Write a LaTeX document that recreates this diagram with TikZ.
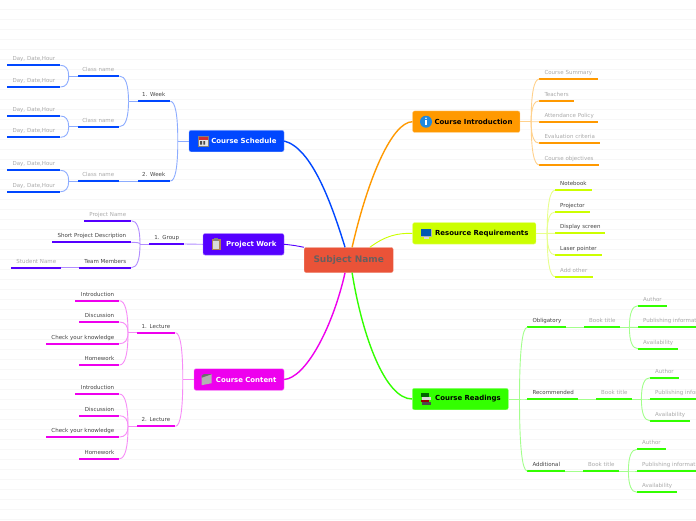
\documentclass[tikz,border=0pt]{standalone}
\usepackage{fontspec}
\setmainfont{DejaVu Sans}
\usetikzlibrary{calc}
\definecolor{schedblue}{RGB}{0,71,255}
\definecolor{projviolet}{RGB}{85,0,255}
\definecolor{contentpink}{RGB}{238,0,238}
\definecolor{introorange}{RGB}{255,153,0}
\definecolor{reslime}{RGB}{204,255,0}
\definecolor{readgreen}{RGB}{51,255,0}
\definecolor{subjectred}{RGB}{234,83,56}
\definecolor{ink}{RGB}{68,68,68}
\definecolor{subjectink}{RGB}{105,95,95}
\definecolor{faded}{RGB}{170,170,170}
\definecolor{rule}{RGB}{247,247,247}
\tikzset{
  hub/.style={draw=#1!50,fill=#1,rounded corners=2pt,inner sep=0pt,minimum height=21.5pt,
              font=\fontsize{6.95}{8}\selectfont\bfseries,align=right},
  subject/.style={draw=subjectred!70,fill=subjectred,rounded corners=2pt,inner sep=0pt,
                  minimum width=89pt,minimum height=25pt,text=subjectink,
                  font=\fontsize{9}{10}\selectfont\bfseries},
  topic/.style={inner xsep=5pt,inner ysep=2.8pt,text height=4pt,text depth=1.5pt,anchor=south west,
                font=\fontsize{5.5}{6}\selectfont},
  dimmed/.style={text=faded},
  plain/.style={text=ink},
  trunk/.style={draw=#1,line width=1.4pt},
  twig/.style={draw=#1!45,line width=0.9pt},
  bracket/.style={to path={.. controls ($(\tikztostart)!0.66!(\tikztostart |- \tikztotarget)$)
                  and ($(\tikztotarget)!0.66!(\tikztostart |- \tikztotarget)$) .. (\tikztotarget)}},
}
% name, left end, right end, height of the underline, colour style, l or r, text
\newcommand{\topic}[7]{%
  \pgfmathsetmacro{\topicw}{#3-#2}%
  \pgfmathsetmacro{\topict}{#3-#2-10}%
  \node[topic,minimum width=\topicw pt,text width=\topict pt,#5] (#1) at (#2,#4) {\makebox[\linewidth][#6]{#7}};
  \draw[\tone,line width=1.9pt] (#1.south west) -- (#1.south east);}
\newcommand{\iconcal}[1]{%
  \begin{scope}[shift={(#1)}]
    \fill[white!90!black] (-5,-5) rectangle (5,5);
    \fill[red!65!gray] (-5,-5) rectangle (5,-1.5);
    \draw[gray,line width=0.3pt] (-5,-5) rectangle (5,5);
    \fill[black!70] (-2.5,0) rectangle (-0.7,3.6) (0.7,0) rectangle (2.5,3.6);
  \end{scope}}
\newcommand{\iconclip}[1]{%
  \begin{scope}[shift={(#1)}]
    \fill[brown!70!gray] (-4.5,-5) rectangle (4.5,5.5);
    \fill[white!85!black] (-3.4,-3.5) rectangle (3.4,4.5);
    \fill[gray] (-1.8,-6) rectangle (1.8,-3.5);
  \end{scope}}
\newcommand{\iconfolder}[1]{%
  \begin{scope}[shift={(#1)}]
    \fill[gray!60] (-5,-4) -- (5,-5.5) -- (5,3.5) -- (-5,5.5) -- cycle;
    \fill[gray!85!black] (-5,-4) -- (-3,-5.5) -- (5,-5.5) -- (-5,-2) -- cycle;
  \end{scope}}
\newcommand{\iconinfo}[1]{%
  \begin{scope}[shift={(#1)}]
    \fill[blue!45!cyan!75!gray] (0,0) circle (6);
    \fill[white] (0,-3.4) circle (0.9);
    \fill[white] (-0.8,-1.5) rectangle (0.8,3.6);
  \end{scope}}
\newcommand{\iconscreen}[1]{%
  \begin{scope}[shift={(#1)}]
    \fill[gray!30] (-2.5,3) rectangle (2.5,5.5);
    \fill[gray!60] (-5.5,-4.5) rectangle (5.5,3.5);
    \fill[blue!50!cyan!70!black] (-4.7,-3.7) rectangle (4.7,2.7);
  \end{scope}}
\newcommand{\iconbooks}[1]{%
  \begin{scope}[shift={(#1)}]
    \fill[green!40!black] (-4.5,-6) rectangle (3.5,-2);
    \fill[white!85!black] (-4,-2) rectangle (5,0.5);
    \fill[red!60!black] (-5,0.5) rectangle (3.5,3);
    \fill[black!70] (-4,3) rectangle (5,6);
  \end{scope}}

\begin{document}
\begin{tikzpicture}[x=1pt,y=-1pt]
  \path[use as bounding box,clip] (0,0) rectangle (696,520);
  \fill[white] (0,0) rectangle (696,520);
  \foreach \y in {9.3,19.3,...,519.3} \draw[rule,line width=0.7pt] (0,\y) -- (696,\y);

  \node[subject] (subject) at (348.7,260) {Subject Name};

  % hubs
  \node[hub=schedblue,text=white,minimum width=95pt,text width=80pt] (schedule) at (236.5,141) {Course Schedule};
  \node[hub=projviolet,text=white,minimum width=81pt,text width=66pt] (project) at (243.5,244.3) {Project Work};
  \node[hub=contentpink,text=white,minimum width=90pt,text width=75pt] (content) at (239,379.5) {Course Content};
  \node[hub=introorange,text=black,minimum width=107.3pt,text width=92.3pt] (intro) at (466.3,121.7) {Course Introduction};
  \node[hub=reslime,text=black,minimum width=123.3pt,text width=108.3pt] (resource) at (474.3,233.3) {Resource Requirements};
  \node[hub=readgreen,text=black,minimum width=96pt,text width=81pt] (readings) at (460.3,399) {Course Readings};
  \iconcal{202.7,141}
  \iconclip{216,244.3}
  \iconfolder{206.7,379.7}
  \iconinfo{426,121.7}
  \iconscreen{426,233}
  \iconbooks{425.7,399}

  \draw[trunk=schedblue] (schedule.east) .. controls (312,148) and (332,205) .. (subject.106);
  \draw[trunk=introorange] (intro.west) .. controls (392,122) and (368,178) .. (subject.75);
  \draw[trunk=reslime,line width=0.9pt] (resource.west) .. controls (397,233) and (385,236) .. (subject.31);
  \draw[trunk=projviolet,line width=0.9pt] (project.east) .. controls (292,245) and (298,246) .. (subject.north west);
  \draw[trunk=contentpink] (content.east) .. controls (305,378) and (332,330) .. (subject.-106);
  \draw[trunk=readgreen] (readings.west) .. controls (385,399) and (362,335) .. (subject.-75);

  % schedule
  \def\tone{schedblue}
  \topic{weekA}{138}{170}{101.3}{plain}{r}{1. Week}
  \topic{weekB}{138}{170}{181}{plain}{r}{2. Week}
  \topic{classA}{78}{119}{76}{dimmed}{r}{Class name}
  \topic{classB}{78}{119}{126.7}{dimmed}{r}{Class name}
  \topic{classC}{78}{119}{181}{dimmed}{r}{Class name}
  \topic{dayA}{7}{60}{65.3}{dimmed}{r}{Day, Date,Hour}
  \topic{dayB}{7}{60}{87}{dimmed}{r}{Day, Date,Hour}
  \topic{dayC}{7}{60}{116}{dimmed}{r}{Day, Date,Hour}
  \topic{dayD}{7}{60}{137.3}{dimmed}{r}{Day, Date,Hour}
  \topic{dayE}{7}{60}{170.3}{dimmed}{r}{Day, Date,Hour}
  \topic{dayF}{7}{60}{191.7}{dimmed}{r}{Day, Date,Hour}
  \draw[twig=schedblue] (schedule.west) -- ++(-11,0) coordinate (schedJoin);
  \draw[twig=schedblue] (schedJoin) to[bracket] (weekA.south east);
  \draw[twig=schedblue] (schedJoin) to[bracket] (weekB.south east);
  \draw[twig=schedblue] (weekA.south west) -- ++(-9.5,0) coordinate (weekJoin);
  \draw[twig=schedblue] (weekJoin) to[bracket] (classA.south east);
  \draw[twig=schedblue] (weekJoin) to[bracket] (classB.south east);
  \draw[twig=schedblue] (weekB.south west) -- (classC.south east);
  \draw[twig=schedblue] (classA.south west) -- ++(-9.3,0) coordinate (classJoinA);
  \draw[twig=schedblue] (classJoinA) to[bracket] (dayA.south east);
  \draw[twig=schedblue] (classJoinA) to[bracket] (dayB.south east);
  \draw[twig=schedblue] (classB.south west) -- ++(-9.3,0) coordinate (classJoinB);
  \draw[twig=schedblue] (classJoinB) to[bracket] (dayC.south east);
  \draw[twig=schedblue] (classJoinB) to[bracket] (dayD.south east);
  \draw[twig=schedblue] (classC.south west) -- ++(-9.3,0) coordinate (classJoinC);
  \draw[twig=schedblue] (classJoinC) to[bracket] (dayE.south east);
  \draw[twig=schedblue] (classJoinC) to[bracket] (dayF.south east);

  % project
  \def\tone{projviolet}
  \topic{group}{149}{184}{244}{plain}{r}{1. Group}
  \topic{pname}{84}{131}{220.7}{dimmed}{r}{Project Name}
  \topic{pshort}{52}{131}{242.3}{plain}{r}{Short Project Description}
  \topic{pteam}{79}{131}{267.7}{plain}{r}{Team Members}
  \topic{pstudent}{11}{61}{267.7}{dimmed}{r}{Student Name}
  \draw[twig=projviolet] (project.west) -- (group.south east);
  \draw[twig=projviolet] (group.south west) -- ++(-9,0) coordinate (groupJoin);
  \draw[twig=projviolet] (groupJoin) to[bracket] (pname.south east);
  \draw[twig=projviolet] (groupJoin) to[bracket] (pshort.south east);
  \draw[twig=projviolet] (groupJoin) to[bracket] (pteam.south east);
  \draw[twig=projviolet] (pteam.south west) -- (pstudent.south east);

  % content
  \def\tone{contentpink}
  \topic{lectA}{137}{175}{332.7}{plain}{r}{1. Lecture}
  \topic{lectB}{137}{175}{426.3}{plain}{r}{2. Lecture}
  \topic{introA}{75}{119}{300.7}{plain}{r}{Introduction}
  \topic{discA}{79}{119}{322}{plain}{r}{Discussion}
  \topic{checkA}{46}{119}{343.7}{plain}{r}{Check your knowledge}
  \topic{homeA}{79}{119}{365}{plain}{r}{Homework}
  \topic{introB}{75}{119}{394}{plain}{r}{Introduction}
  \topic{discB}{79}{119}{415.7}{plain}{r}{Discussion}
  \topic{checkB}{46}{119}{437}{plain}{r}{Check your knowledge}
  \topic{homeB}{79}{119}{458.7}{plain}{r}{Homework}
  \draw[twig=contentpink] (content.west) -- ++(-11,0) coordinate (contentJoin);
  \draw[twig=contentpink] (contentJoin) to[bracket] (lectA.south east);
  \draw[twig=contentpink] (contentJoin) to[bracket] (lectB.south east);
  \draw[twig=contentpink] (lectA.south west) -- ++(-9,0) coordinate (lectJoinA);
  \draw[twig=contentpink] (lectJoinA) to[bracket] (introA.south east);
  \draw[twig=contentpink] (lectJoinA) to[bracket] (discA.south east);
  \draw[twig=contentpink] (lectJoinA) to[bracket] (checkA.south east);
  \draw[twig=contentpink] (lectJoinA) to[bracket] (homeA.south east);
  \draw[twig=contentpink] (lectB.south west) -- ++(-9,0) coordinate (lectJoinB);
  \draw[twig=contentpink] (lectJoinB) to[bracket] (introB.south east);
  \draw[twig=contentpink] (lectJoinB) to[bracket] (discB.south east);
  \draw[twig=contentpink] (lectJoinB) to[bracket] (checkB.south east);
  \draw[twig=contentpink] (lectJoinB) to[bracket] (homeB.south east);

  % introduction
  \def\tone{introorange}
  \topic{summary}{539.3}{597.3}{79}{dimmed}{l}{Course Summary}
  \topic{teachers}{539.3}{574}{100.7}{dimmed}{l}{Teachers}
  \topic{attend}{539.3}{598}{121.7}{dimmed}{l}{Attendance Policy}
  \topic{evalu}{539.3}{600}{143.3}{dimmed}{l}{Evaluation criteria}
  \topic{object}{539.3}{598.3}{165}{dimmed}{l}{Course objectives}
  \draw[twig=introorange] (intro.east) -- ++(11,0) coordinate (introJoin);
  \draw[twig=introorange] (introJoin) to[bracket] (summary.south west);
  \draw[twig=introorange] (introJoin) to[bracket] (teachers.south west);
  \draw[twig=introorange] (introJoin) to[bracket] (attend.south west);
  \draw[twig=introorange] (introJoin) to[bracket] (evalu.south west);
  \draw[twig=introorange] (introJoin) to[bracket] (object.south west);

  % resources
  \def\tone{reslime}
  \topic{notebook}{555}{592}{190.3}{plain}{l}{Notebook}
  \topic{projector}{555}{590}{212}{plain}{l}{Projector}
  \topic{display}{555}{605}{233.3}{plain}{l}{Display screen}
  \topic{laser}{555}{602}{255}{plain}{l}{Laser pointer}
  \topic{addother}{555}{592.5}{276.7}{dimmed}{l}{Add other}
  \draw[twig=reslime] (resource.east) -- ++(11,0) coordinate (resJoin);
  \draw[twig=reslime] (resJoin) to[bracket] (notebook.south west);
  \draw[twig=reslime] (resJoin) to[bracket] (projector.south west);
  \draw[twig=reslime] (resJoin) to[bracket] (display.south west);
  \draw[twig=reslime] (resJoin) to[bracket] (laser.south west);
  \draw[twig=reslime] (resJoin) to[bracket] (addother.south west);

  % readings
  \def\tone{readgreen}
  \topic{oblig}{527.3}{566}{327.3}{plain}{l}{Obligatory}
  \topic{bookA}{584}{620}{327.3}{dimmed}{l}{Book title}
  \topic{authorA}{638}{667}{305.7}{dimmed}{l}{Author}
  \topic{publA}{638}{730}{327.3}{dimmed}{l}{Publishing information}
  \topic{availA}{638}{678}{348.7}{dimmed}{l}{Availability}
  \topic{recomm}{527.3}{578}{399}{plain}{l}{Recommended}
  \topic{bookB}{596}{632}{399}{dimmed}{l}{Book title}
  \topic{authorB}{650}{679}{377.7}{dimmed}{l}{Author}
  \topic{publB}{650}{740}{399}{dimmed}{l}{Publishing information}
  \topic{availB}{650}{690}{420.7}{dimmed}{l}{Availability}
  \topic{addit}{527.3}{565}{471}{plain}{l}{Additional}
  \topic{bookC}{583}{619}{471}{dimmed}{l}{Book title}
  \topic{authorC}{637}{666}{449.3}{dimmed}{l}{Author}
  \topic{publC}{637}{730}{471}{dimmed}{l}{Publishing information}
  \topic{availC}{637}{677}{492.3}{dimmed}{l}{Availability}
  \draw[twig=readgreen] (readings.east) -- ++(11,0) coordinate (readJoin);
  \draw[twig=readgreen] (readJoin) to[bracket] (oblig.south west);
  \draw[twig=readgreen] (readJoin) to[bracket] (recomm.south west);
  \draw[twig=readgreen] (readJoin) to[bracket] (addit.south west);
  \draw[twig=readgreen] (oblig.south east) -- (bookA.south west);
  \draw[twig=readgreen] (recomm.south east) -- (bookB.south west);
  \draw[twig=readgreen] (addit.south east) -- (bookC.south west);
  \draw[twig=readgreen] (bookA.south east) -- ++(9,0) coordinate (bookJoinA);
  \draw[twig=readgreen] (bookJoinA) to[bracket] (authorA.south west);
  \draw[twig=readgreen] (bookJoinA) to[bracket] (publA.south west);
  \draw[twig=readgreen] (bookJoinA) to[bracket] (availA.south west);
  \draw[twig=readgreen] (bookB.south east) -- ++(9,0) coordinate (bookJoinB);
  \draw[twig=readgreen] (bookJoinB) to[bracket] (authorB.south west);
  \draw[twig=readgreen] (bookJoinB) to[bracket] (publB.south west);
  \draw[twig=readgreen] (bookJoinB) to[bracket] (availB.south west);
  \draw[twig=readgreen] (bookC.south east) -- ++(9,0) coordinate (bookJoinC);
  \draw[twig=readgreen] (bookJoinC) to[bracket] (authorC.south west);
  \draw[twig=readgreen] (bookJoinC) to[bracket] (publC.south west);
  \draw[twig=readgreen] (bookJoinC) to[bracket] (availC.south west);
\end{tikzpicture}
\end{document}
